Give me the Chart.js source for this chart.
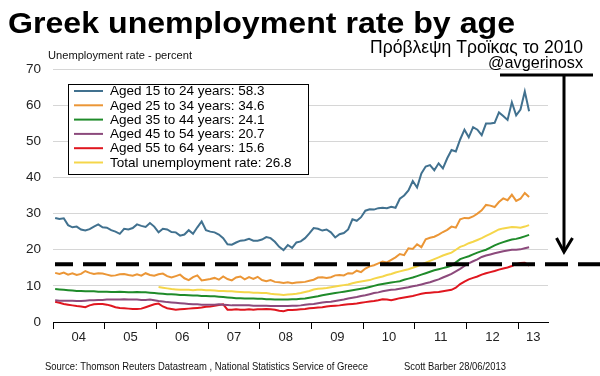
<!DOCTYPE html>
<html>
<head>
<meta charset="utf-8">
<script src="https://cdn.jsdelivr.net/npm/chart.js@4.4.1/dist/chart.umd.min.js"></script>
<style>
  html, body { margin: 0; padding: 0; background: #fff; overflow: hidden; }
  canvas { display: block; }
</style>
</head>
<body>
<canvas id="chart" width="600" height="376"></canvas>
<script>
// --- Data (monthly, Jan 2004 .. Mar 2013) ---
const FIRST_YEAR = 2004;
const YEAR_LABELS = ['04', '05', '06', '07', '08', '09', '10', '11', '12', '13'];

const AGED_15_24 = [
  28.8, 28.5, 28.7, 26.8, 26.2, 26.4, 25.6, 25.3, 25.7, 26.4, 27.0, 26.2,
  26.1, 25.4, 25.0, 24.4, 25.8, 25.6, 26.0, 27.0, 26.6, 26.3, 27.4, 26.4,
  24.8, 25.8, 25.6, 24.9, 24.8, 23.9, 24.2, 25.4, 24.4, 26.2, 27.8, 25.4,
  25.0, 24.8, 24.2, 23.2, 21.5, 21.4, 22.0, 22.5, 22.6, 23.0, 22.5, 22.5,
  22.8, 23.5, 23.2, 22.2, 20.8, 19.9, 21.3, 20.5, 22.0, 22.3, 23.2, 24.5,
  26.0, 25.8, 25.3, 25.6, 24.8, 23.4, 24.3, 24.6, 25.6, 28.4, 28.0, 29.0,
  30.8, 31.2, 31.1, 31.5, 31.6, 31.5, 31.9, 31.6, 34.1, 35.0, 36.4, 39.0,
  37.2, 41.1, 43.0, 43.4, 42.0, 43.9, 42.5, 45.3, 47.6, 47.2, 50.5, 53.2,
  51.1, 53.9, 53.2, 51.7, 54.9, 54.9, 55.1, 58.0, 57.0, 55.9, 60.8, 57.2,
  58.8, 63.8, 58.3
];
const AGED_25_34 = [
  13.6, 13.3, 13.7, 13.1, 13.5, 13.0, 13.3, 14.1, 13.6, 13.3, 13.5, 13.4,
  13.1, 12.8, 12.9, 13.2, 13.3, 13.0, 12.8, 13.2, 12.8, 13.5, 13.0, 12.8,
  13.2, 13.4, 12.7, 12.3, 12.7, 13.1, 12.1, 11.6, 12.4, 12.9, 11.5, 11.7,
  11.9, 12.2, 11.7, 12.6, 11.9, 11.5, 12.3, 12.6, 11.8, 12.4, 11.9, 12.5,
  11.6, 11.3, 11.6, 11.1, 11.0, 10.8, 11.0, 10.7, 10.9, 11.0, 11.1, 11.4,
  11.7, 12.3, 12.4, 12.2, 12.4, 12.9, 13.0, 12.9, 13.5, 13.4, 14.2, 13.8,
  14.8, 15.4, 15.7, 16.2, 16.7, 16.5, 17.2, 17.9, 18.8, 18.5, 20.4, 20.2,
  21.5, 20.7, 22.9, 23.3, 23.6, 24.2, 24.9, 25.5, 26.4, 26.1, 28.4, 28.8,
  28.7, 29.2, 30.0, 30.9, 32.4, 32.2, 31.8, 33.2, 34.2, 33.7, 35.2, 33.5,
  34.1, 35.7, 34.6
];
const AGED_35_44 = [
  9.1, 9.0, 8.9, 8.8, 8.7, 8.6, 8.6, 8.5, 8.5, 8.5, 8.4, 8.4,
  8.4, 8.3, 8.3, 8.4, 8.3, 8.2, 8.2, 8.3, 8.2, 8.2, 8.1, 8.0,
  7.9, 7.8, 7.7, 7.7, 7.6, 7.5, 7.5, 7.4, 7.3, 7.3, 7.2, 7.2,
  7.1, 7.1, 7.0, 6.9, 6.8, 6.7, 6.6, 6.6, 6.5, 6.5, 6.5, 6.4,
  6.4, 6.3, 6.3, 6.2, 6.2, 6.2, 6.2, 6.3, 6.3, 6.4, 6.5, 6.7,
  6.9, 7.1, 7.4, 7.6, 7.8, 8.0, 8.2, 8.4, 8.6, 8.8, 9.0, 9.2,
  9.4, 9.7, 10.0, 10.3, 10.5, 10.7, 10.9, 11.1, 11.3, 11.7, 12.0, 12.3,
  12.7, 13.1, 13.5, 13.9, 14.3, 14.6, 14.9, 15.2, 15.6, 16.5, 17.4, 17.8,
  18.2, 18.7, 19.2, 19.6, 20.0, 20.6, 21.2, 21.7, 22.1, 22.5, 22.8, 23.0,
  23.3, 23.7, 24.1
];
const AGED_45_54 = [
  6.0, 5.9, 5.9, 5.9, 5.9, 5.8, 5.8, 5.9, 6.0, 6.0, 6.1, 6.1,
  6.2, 6.2, 6.2, 6.2, 6.3, 6.2, 6.2, 6.2, 6.1, 6.1, 6.2, 6.0,
  5.8, 5.7, 5.5, 5.4, 5.3, 5.2, 5.1, 5.0, 4.9, 4.9, 4.8, 4.8,
  4.8, 4.8, 4.9, 4.8, 4.7, 4.6, 4.6, 4.6, 4.6, 4.6, 4.5, 4.5,
  4.5, 4.5, 4.4, 4.4, 4.4, 4.4, 4.4, 4.5, 4.5, 4.6, 4.8, 4.9,
  5.0, 5.2, 5.4, 5.5, 5.6, 5.8, 6.0, 6.2, 6.5, 6.7, 6.9, 7.2,
  7.4, 7.7, 8.0, 8.2, 8.5, 8.7, 8.9, 9.0, 9.2, 9.4, 9.6, 9.9,
  10.1, 10.4, 10.7, 11.0, 11.4, 11.8, 12.3, 12.8, 13.3, 14.0, 14.7, 15.5,
  16.2, 16.8, 17.3, 18.0, 18.4, 18.7, 19.0, 19.3, 19.6, 19.8, 20.0, 20.0,
  20.1, 20.4, 20.7
];
const AGED_55_64 = [
  5.6, 5.3, 5.0, 4.8, 4.6, 4.4, 4.3, 4.1, 4.6, 4.9, 5.0, 5.0,
  4.8, 4.5, 4.1, 3.9, 3.8, 3.7, 3.6, 3.6, 3.7, 4.1, 4.5, 4.9,
  5.1, 4.3, 3.8, 3.6, 3.4, 3.5, 3.6, 3.7, 3.8, 3.9, 4.0, 4.2,
  4.3, 4.5, 4.7, 4.9, 3.4, 3.4, 3.5, 3.4, 3.4, 3.5, 3.4, 3.5,
  3.5, 3.6, 3.5, 3.4, 3.1, 3.0, 3.3, 3.3, 3.4, 3.5, 3.6, 3.8,
  3.9, 4.0, 4.1, 4.3, 4.4, 4.5, 4.6, 4.8, 4.9, 5.0, 5.1, 5.3,
  5.5, 5.7, 5.8, 6.0, 6.3, 6.2, 6.0, 6.3, 6.6, 6.8, 7.0, 7.2,
  7.5, 7.8, 8.0, 8.1, 8.2, 8.3, 8.5, 8.7, 8.9, 9.5, 10.5, 11.2,
  11.8, 12.2, 12.6, 13.1, 13.5, 13.8, 14.1, 14.5, 14.8, 15.1, 15.5, 16.0,
  16.3, 16.4, 15.6
];
const TOTAL_RATE = [
  null, null, null, null, null, null, null, null, null, null, null, null,
  null, null, null, null, null, null, null, null, null, null, null, null,
  9.7, 9.5, 9.3, 9.1, 9.0, 8.9, 8.9, 8.9, 8.8, 8.9, 8.9, 8.8,
  8.8, 8.7, 8.6, 8.6, 8.5, 8.5, 8.4, 8.3, 8.2, 8.2, 8.1, 8.1,
  8.0, 8.0, 7.8, 7.7, 7.6, 7.5, 7.6, 7.7, 7.8, 8.0, 8.3, 8.6,
  9.0, 9.2, 9.3, 9.4, 9.6, 9.8, 10.0, 10.2, 10.4, 10.7, 11.0, 11.2,
  11.4, 11.6, 12.0, 12.3, 12.6, 13.0, 13.3, 13.7, 14.0, 14.3, 14.6, 15.0,
  15.4, 15.9, 16.4, 16.9, 17.4, 17.9, 18.4, 18.8, 19.2, 20.0, 20.8, 21.2,
  21.8, 22.2, 22.7, 23.2, 23.8, 24.4, 25.0, 25.6, 25.9, 26.1, 26.3, 26.2,
  26.1, 26.4, 26.8
];
const SERIES_NAMES = [
  'Aged 15 to 24 years', 'Aged 25 to 34 years', 'Aged 35 to 44 years',
  'Aged 45 to 54 years', 'Aged 55 to 64 years', 'Total unemployment rate'
];
const SERIES_VALUES = [AGED_15_24, AGED_25_34, AGED_35_44, AGED_45_54, AGED_55_64, TOTAL_RATE];
const SERIES_COLORS = ['#41718f', '#eb9636', '#1f8b2a', '#8c4a7c', '#e0161f', '#f5d64a'];
const TROIKA_FORECAST = 16;   // dashed line

const FONT = '"Liberation Sans", Arial, sans-serif';

// month centre -> decimal year
function monthX(i) {
    return FIRST_YEAR + Math.floor(i / 12) + ((i % 12) + 0.5) / 12;
}

function lastValue(arr) {
    for (let i = arr.length - 1; i >= 0; i--) if (arr[i] != null) return arr[i];
    return null;
}

const datasets = SERIES_VALUES.map((vals, k) => ({
    label: SERIES_NAMES[k] + ': ' + lastValue(vals).toFixed(1),
    data: vals.map((v, i) => ({ x: monthX(i), y: v })),
    borderColor: SERIES_COLORS[k],
    borderWidth: 2,
    pointRadius: 0,
    tension: 0,
    spanGaps: false,
    fill: false
}));

// --- Extras drawn on the canvas ---
function fitText(ctx, text, x, y, width, font) {
    ctx.font = font;
    const w = ctx.measureText(text).width;
    ctx.save();
    ctx.translate(x, y);
    ctx.scale(width / w, 1);
    ctx.textAlign = 'left';
    ctx.textBaseline = 'alphabetic';
    ctx.fillText(text, 0, 0);
    ctx.restore();
}

const extrasPlugin = {
    id: 'extras',
    afterDatasetsDraw(chart) {
        const ctx = chart.ctx;
        const y = chart.scales.y.getPixelForValue(TROIKA_FORECAST);
        ctx.save();
        ctx.strokeStyle = '#000';
        ctx.lineWidth = 4;
        ctx.setLineDash([23, 10]);
        ctx.lineDashOffset = 5;
        ctx.beginPath();
        ctx.moveTo(55, y);
        ctx.lineTo(600, y);
        ctx.stroke();
        ctx.restore();
    },
    afterDraw(chart) {
        const ctx = chart.ctx;
        ctx.save();

        // legend box
        ctx.fillStyle = '#fff';
        ctx.fillRect(68.5, 84.5, 240, 90);
        ctx.strokeStyle = '#000';
        ctx.lineWidth = 1;
        ctx.strokeRect(68.5, 84.5, 240, 90);
        chart.data.datasets.forEach((ds, k) => {
            const ry = 91 + k * 14.3;
            ctx.strokeStyle = ds.borderColor;
            ctx.lineWidth = 2;
            ctx.beginPath();
            ctx.moveTo(74, ry);
            ctx.lineTo(103, ry);
            ctx.stroke();
            ctx.fillStyle = '#000';
            ctx.font = '13.5px ' + FONT;
            ctx.textBaseline = 'middle';
            ctx.fillText(ds.label, 110, ry + 0.5);
        });

        // texts
        ctx.fillStyle = '#000';
        fitText(ctx, 'Greek unemployment rate by age', 8, 33, 507, 'bold 30px ' + FONT);
        fitText(ctx, 'Πρόβλεψη Τροϊκας το 2010', 370, 53, 213, '18px ' + FONT);
        fitText(ctx, '@avgerinosx', 488, 68, 95, '17px ' + FONT);
        ctx.fillStyle = '#111';
        fitText(ctx, 'Unemployment rate - percent', 48, 58.5, 144, '11.5px ' + FONT);
        fitText(ctx, 'Source: Thomson Reuters Datastream , National Statistics Service of Greece', 45, 369.5, 323, '11px ' + FONT);
        fitText(ctx, 'Scott Barber 28/06/2013', 404, 369.5, 102, '11px ' + FONT);

        // arrow from the handle down to the forecast line
        ctx.strokeStyle = '#000';
        ctx.lineWidth = 3;
        ctx.beginPath();
        ctx.moveTo(500, 75);
        ctx.lineTo(593, 75);
        ctx.moveTo(564, 75);
        ctx.lineTo(564, 250);
        ctx.stroke();
        ctx.beginPath();
        ctx.moveTo(556.5, 238);
        ctx.lineTo(564, 252);
        ctx.lineTo(572.5, 238);
        ctx.stroke();

        ctx.restore();
    }
};

// x ticks: year boundaries (tick marks only) and year middles (labels only)
const X_TICKS = [];
for (let k = 0; k < YEAR_LABELS.length; k++) {
    X_TICKS.push(FIRST_YEAR + k);
    X_TICKS.push(k < YEAR_LABELS.length - 1 ? FIRST_YEAR + k + 0.5 : FIRST_YEAR + k + 0.29);
}

new Chart(document.getElementById('chart'), {
    type: 'line',
    data: { datasets: datasets },
    options: {
        responsive: false,
        animation: false,
        events: [],
        layout: { padding: { top: 69, right: 52, left: 0, bottom: 0 } },
        plugins: { legend: { display: false }, tooltip: { enabled: false }, title: { display: false } },
        scales: {
            x: {
                type: 'linear',
                min: 2004,
                max: 2013.574,
                afterFit: s => { s.height = 54; },
                afterBuildTicks: s => { s.ticks = X_TICKS.map(v => ({ value: v })); },
                border: { display: true, color: '#000', width: 1 },
                grid: {
                    drawOnChartArea: false,
                    drawTicks: true,
                    tickLength: 7,
                    tickWidth: 1,
                    tickColor: c => (c.tick && Number.isInteger(c.tick.value)) ? '#000' : 'rgba(0,0,0,0)'
                },
                ticks: {
                    autoSkip: false,
                    maxRotation: 0,
                    minRotation: 0,
                    padding: 1,
                    color: '#222',
                    font: { family: FONT, size: 13 },
                    callback: v => Number.isInteger(v) ? '' : YEAR_LABELS[Math.floor(v) - FIRST_YEAR]
                }
            },
            y: {
                min: 0,
                max: 70,
                afterFit: s => { s.width = 53; },
                border: { display: false },
                grid: {
                    drawTicks: false,
                    color: c => c.tick && c.tick.value === 0 ? 'rgba(0,0,0,0)' : '#d6d6d6',
                    lineWidth: 1
                },
                ticks: {
                    stepSize: 10,
                    padding: 12,
                    color: '#222',
                    font: { family: FONT, size: 13.5 }
                }
            }
        }
    },
    plugins: [extrasPlugin]
});
</script>
</body>
</html>
